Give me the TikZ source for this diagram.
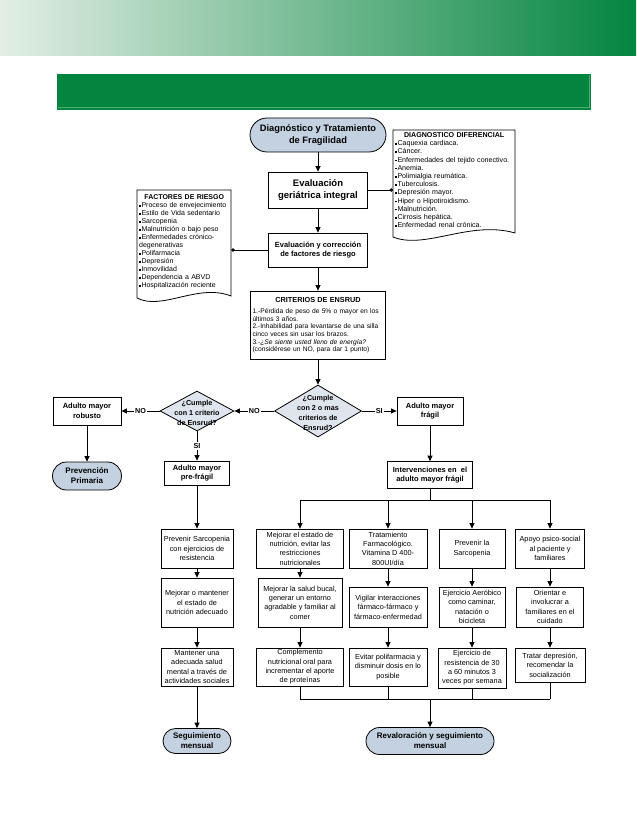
\documentclass[tikz,border=0pt]{standalone}
\usepackage{fontspec}
\setmainfont{Liberation Sans}
\usetikzlibrary{arrows.meta,shapes.geometric,positioning}
\definecolor{verdeosc}{HTML}{03853F}
\definecolor{verdecla}{HTML}{E3EEE5}
\definecolor{verdemed}{HTML}{B6D7BE}
\definecolor{verdelin}{HTML}{4FAF6E}
\definecolor{azulterm}{HTML}{C3D1E1}
\definecolor{azuldec}{HTML}{DFE5ED}
\newcommand{\cuad}{\raisebox{0.9pt}{\rule{1.7pt}{1.7pt}}\kern0.6pt}

\begin{document}
\begin{tikzpicture}[x=1pt,y=-1pt,
    linea/.style={line width=0.8pt},
    flecha/.style={linea,-{Triangle[length=5.5pt,width=5pt]}},
    punto/.style={linea,{Circle[length=3.4pt]}-},
    caja/.style 2 args={draw,linea,fill=white,align=center,inner sep=1pt,
        minimum width=#1,minimum height=#2,font=\fontsize{7.3}{9.4}\selectfont},
    cajan/.style 2 args={caja={#1}{#2},font=\fontsize{7.5}{9.8}\selectfont\bfseries},
    term/.style n args={3}{draw,linea,fill=azulterm,align=center,inner sep=1pt,
        minimum width=#1,minimum height=#2,rounded corners=#3,
        font=\fontsize{8}{10}\selectfont\bfseries},
    decis/.style 2 args={draw,linea,fill=azuldec,diamond,inner sep=0pt,
        minimum width=#1,minimum height=#2},
    dectxt/.style={align=center,inner sep=0pt,font=\fontsize{7.2}{9.8}\selectfont\bfseries},
    doctxt/.style 2 args={anchor=north west,inner sep=2pt,text width=#1,
        minimum height=#2,align=left},
    etiq/.style={fill=white,inner sep=1pt,font=\fontsize{7.2}{8}\selectfont\bfseries}
]
\useasboundingbox (0,0) rectangle (638,826);
\fill[white] (0,0) rectangle (638,826);

% cabecera
\shade[left color=verdecla,middle color=verdemed,right color=verdeosc] (0,0) rectangle (636,56);
\fill[verdeosc] (57,74) rectangle (591,110);
\draw[verdelin,line width=0.6pt] (58,107.5) -- (589,107.5) -- (589,75);

% documentos
\draw[linea] (393,130) -- (393,237) .. controls (425,250) and (470,220) .. (515,233) -- (515,130) -- cycle;
\node[doctxt={118}{100},font=\fontsize{7.1}{8.2}\selectfont] (difer) at (393,130) {%
    {\centering\bfseries DIAGNOSTICO DIFERENCIAL\par}
    \cuad Caquexia cardiaca.\\
    \cuad Cáncer.\\
    \cuad Enfermedades del tejido conectivo.\\
    \cuad Anemia.\\
    \cuad Polimialgia reumática.\\
    \cuad Tuberculosis.\\
    \cuad Depresión mayor.\\
    \cuad Hiper o Hipotiroidismo.\\
    \cuad Malnutrición.\\
    \cuad Cirrosis hepática.\\
    \cuad Enfermedad renal crónica.};

\draw[linea] (137,190) -- (137,298) .. controls (162,311) and (198,283) .. (231,296) -- (231,190) -- cycle;
\node[doctxt={90}{104},font=\fontsize{7}{8}\selectfont] (factor) at (137,190) {%
    {\centering\bfseries FACTORES DE RIESGO\par}
    \cuad Proceso de envejecimiento\\
    \cuad Estilo de Vida sedentario\\
    \cuad Sarcopenia\\
    \cuad Malnutrición o bajo peso\\
    \cuad Enfermedades crónico-\\
    degenerativas\\
    \cuad Polifarmacia\\
    \cuad Depresión\\
    \cuad Inmovilidad\\
    \cuad Dependencia a ABVD\\
    \cuad Hospitalización reciente};

% columna central
\node[term={136}{34}{17pt},font=\fontsize{9.3}{11.5}\selectfont\bfseries] (inicio) at (318,135)
    {Diagnóstico y Tratamiento\\de Fragilidad};
\node[cajan={99}{36},font=\fontsize{9.5}{12}\selectfont\bfseries] (geri) at (318,190)
    {Evaluación\\geriátrica integral};
\node[cajan={99}{34}] (corr) at (318,250) {Evaluación y corrección\\de factores de riesgo};
\node[caja={134}{68},align=left,inner xsep=2pt,text width=131,
      font=\fontsize{6.7}{7.6}\selectfont] (crit) at (318,325) {%
    {\centering\bfseries\fontsize{7.3}{9}\selectfont CRITERIOS DE ENSRUD\par}
    \vspace{4pt}
    1.-Pérdida de peso de 5\% o mayor en los\\
    últimos 3 años.\\
    2.-Inhabilidad para levantarse de una silla\\
    cinco veces sin usar los brazos.\\
    3.-\textit{¿Se siente usted lleno de energía?}\\
    (considérese un NO, para dar 1 punto)};

% decisiones
\node[decis={87}{52}] (cumple2) at (318,411) {};
\node[dectxt] (cumple2t) at (318,413) {¿Cumple\\con 2 o mas\\criterios de\\Ensrud?};
\node[decis={74}{40}] (cumple1) at (197,411) {};
\node[dectxt] (cumple1t) at (197,413) {¿Cumple\\con 1 criterio\\de Ensrud?};

\node[cajan={68}{28}] (robusto) at (87,411) {Adulto mayor\\robusto};
\node[term={69}{28}{14pt}] (prevprim) at (87,476) {Prevención\\Primaria};
\node[cajan={66}{28}] (fragil) at (430,411) {Adulto mayor\\frágil};
\node[cajan={65}{24}] (prefragil) at (197,473) {Adulto mayor\\pre-frágil};
\node[cajan={85}{27}] (interv) at (430,475) {Intervenciones en \ el\\adulto mayor frágil};

% columnas de intervenciones
\node[caja={72}{39}] (prea) at (197,548.5) {Prevenir Sarcopenia\\con ejercicios de\\resistencia};
\node[caja={72}{49}] (preb) at (197,602.5) {Mejorar o mantener\\el estado de\\nutrición adecuado};
\node[caja={72}{38}] (prec) at (197,667) {Mantener una\\adecuada salud\\mental a través de\\actividades sociales};

\node[caja={87}{39}] (nuta) at (300,548.5) {Mejorar el estado de\\nutrición, evitar las\\restricciones\\nutricionales};
\node[caja={84}{49}] (nutb) at (300,602.5) {Mejorar la salud bucal,\\generar un entorno\\agradable y familiar al\\comer};
\node[caja={87}{38}] (nutc) at (300,667) {Complemento\\nutricional oral para\\incrementar el aporte\\de proteínas};

\node[caja={78}{39}] (fara) at (388,548.5) {Tratamiento\\Farmacológico.\\Vitamina D 400-\\800UI/día};
\node[caja={78}{40}] (farb) at (388,607) {Vigilar interacciones\\fármaco-fármaco y\\fármaco-enfermedad};
\node[caja={78}{38}] (farc) at (388,667) {Evitar polifarmacia y\\disminuir dosis en lo\\posible};

\node[caja={66}{39}] (sara) at (472,548.5) {Prevenir la\\Sarcopenia};
\node[caja={66}{40}] (sarb) at (472,607) {Ejercicio Aeróbico\\como caminar,\\natación o\\bicicleta};
\node[caja={68}{40}] (sarc) at (472,668) {Ejercicio de\\resistencia de 30\\a 60 minutos 3\\veces por semana};

\node[caja={69}{39}] (psia) at (550,548.5) {Apoyo psico-social\\al paciente y\\familiares};
\node[caja={67}{40}] (psib) at (550,607) {Orientar e\\involucrar a\\familiares en el\\cuidado};
\node[caja={70}{34}] (psic) at (550,665) {Tratar depresión,\\recomendar la\\socialización};

% terminales finales
\node[term={68}{25}{12.5pt}] (seguim) at (197,741) {Seguimiento\\mensual};
\node[term={128}{27}{13.5pt}] (reval) at (430,741) {Revaloración y seguimiento\\mensual};

% conectores
\draw[punto] (geri.east -| difer.west) -- (geri.east);
\draw[punto] (corr.west -| factor.east) -- (corr.west);
\draw[flecha] (inicio) -- (geri);
\draw[flecha] (geri) -- (corr);
\draw[flecha] (corr) -- (crit);
\draw[flecha] (crit) -- (cumple2);
\draw[flecha] (cumple2.west) -- node[etiq] {NO} (cumple1.east);
\draw[flecha] (cumple1.west) -- node[etiq] {NO} (robusto.east);
\draw[flecha] (cumple2.east) -- node[etiq] {SI} (fragil.west);
\draw[flecha] (cumple1.south) -- node[etiq] {SI} (prefragil.north);
\draw[flecha] (robusto) -- (prevprim);
\draw[flecha] (fragil) -- (interv);
\draw[flecha] (prefragil) -- (prea);
\draw[flecha] (prec) -- (seguim);

\coordinate (rama) at (430,500);
\coordinate (junta) at (430,699);
\draw[linea] (interv) -- (rama);
\draw[linea] (rama -| nuta.north) -- (rama -| psia.north);
\draw[linea] (junta -| nutc.south) -- (junta -| psic.south);
\draw[flecha] (junta) -- (reval);
\foreach \c in {nut,far,sar,psi} {
    \draw[flecha] (rama -| \c a.north) -- (\c a.north);
    \draw[linea] (\c c.south) -- (junta -| \c c.south);
}
\foreach \c in {pre,nut,far,sar,psi} {
    \draw[flecha] (\c a) -- (\c b);
    \draw[flecha] (\c b) -- (\c c);
}
\end{tikzpicture}
\end{document}
